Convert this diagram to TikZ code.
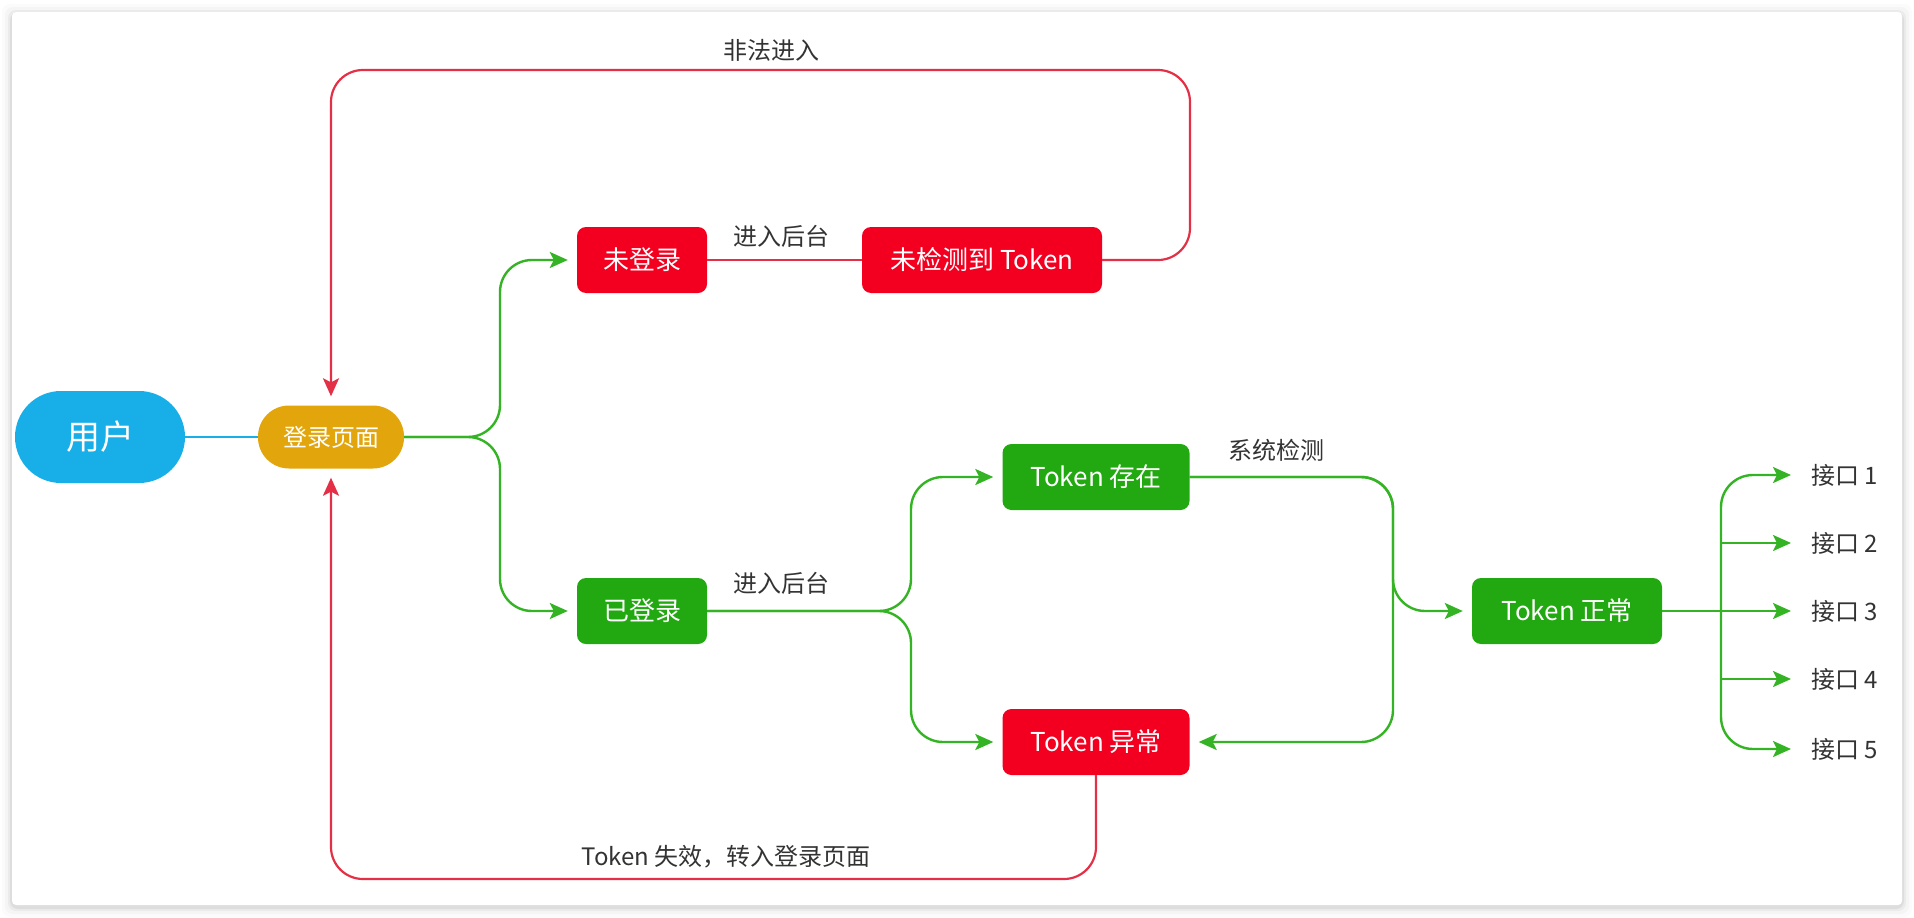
\documentclass[tikz,border=0pt]{standalone}
\usepackage{fontspec}
\setmainfont{Noto Sans CJK SC}
\usetikzlibrary{arrows.meta,calc}
\definecolor{ublue}{RGB}{24,174,232}
\definecolor{ugold}{RGB}{226,165,12}
\definecolor{ured}{RGB}{243,0,32}
\definecolor{ugreen}{RGB}{34,168,16}
\definecolor{lgreen}{RGB}{52,180,36}
\definecolor{lred}{RGB}{228,48,70}
\definecolor{txt}{RGB}{51,51,51}
\begin{document}
\begin{tikzpicture}[x=1pt,y=-1pt,
 box/.style={rectangle, rounded corners=9pt, minimum height=66pt, text=white, font=\fontsize{26}{30}\selectfont, inner sep=0pt},
 redbox/.style={box, fill=ured},
 greenbox/.style={box, fill=ugreen},
 userbox/.style={rectangle, fill=ublue, rounded corners=46pt, minimum width=170pt, minimum height=92pt, text=white, font=\fontsize{34}{40}\selectfont, inner sep=0pt},
 loginbox/.style={rectangle, fill=ugold, rounded corners=31pt, minimum width=146pt, minimum height=63pt, text=white, font=\fontsize{24}{28}\selectfont, inner sep=0pt},
 lbl/.style={text=txt, font=\fontsize{24}{28}\selectfont, inner sep=0pt},
 gline/.style={draw=lgreen, line width=2.4pt, rounded corners=32pt},
 rline/.style={draw=lred, line width=2.2pt, rounded corners=32pt},
 bline/.style={draw=ublue, line width=2.4pt},
 arr/.style={-{Stealth[length=18pt,width=16pt,inset=4pt]}, shorten >=9pt},
 arrk/.style={-{Stealth[length=18pt,width=16pt,inset=4pt]}, shorten >=20pt},
]
\useasboundingbox (0,0) rectangle (1914,918);
% card with shadow
\foreach \i/\o in {10/0.015, 7/0.025, 4/0.04, 2/0.06}
  \fill[black, opacity=\o, rounded corners=8pt] (12-\i,12-\i+2) rectangle (1902+\i,905+\i+2);
\fill[white, rounded corners=4pt] (12,12) rectangle (1902,905);

% nodes
\node[userbox] (user) at (100,437) {用户};
\node[loginbox] (login) at (331,437) {登录页面};
\node[redbox, minimum width=130pt] (nl) at (642,260) {未登录};
\node[redbox, minimum width=240pt] (nt) at (982,260) {未检测到 Token};
\node[greenbox, minimum width=130pt] (yl) at (642,611) {已登录};
\node[greenbox, minimum width=187pt] (te) at (1096,477) {Token 存在};
\node[redbox, minimum width=187pt] (tx) at (1096,742) {Token 异常};
\node[greenbox, minimum width=190pt] (tn) at (1567,611) {Token 正常};
\node[lbl, anchor=west] (k1) at (1811,475) {接口 1};
\node[lbl, anchor=west] (k2) at (1811,543) {接口 2};
\node[lbl, anchor=west] (k3) at (1811,611) {接口 3};
\node[lbl, anchor=west] (k4) at (1811,679) {接口 4};
\node[lbl, anchor=west] (k5) at (1811,749) {接口 5};

% labels
\node[lbl] (lab1) at (771,50) {非法进入};
\node[lbl] (lab2) at (781,236) {进入后台};
\node[lbl] (lab3) at (781,583) {进入后台};
\node[lbl] (lab4) at (1276,450) {系统检测};
\node[lbl] (lab5) at (726,857) {Token 失效，转入登录页面};

% helper coordinates
\coordinate (b1) at (500,437);
\coordinate (b2) at (911,611);
\coordinate (b3) at (1393,0);
\coordinate (j) at (1721,611);
\coordinate (r1) at (1190,70);
\coordinate (r2) at (0,879);

% connectors
\draw[bline] (user.east) -- (login.west);
\draw[gline, arr] (login.east) -- (b1) |- (nl.west);
\draw[gline, arr] (login.east) -- (b1) |- (yl.west);
\draw[rline] (nl.east) -- (nt.west);
\draw[rline, arr] (nt.east) -| (r1) -- (r1 -| login) -- (login.north);
\draw[rline, arr] (tx.south) |- (r2 -| login) -- (login.south);
\draw[gline, arr] (yl.east) -- (b2) |- (te.west);
\draw[gline, arr] (yl.east) -- (b2) |- (tx.west);
\draw[gline, arr] (te.east) -| (b3 |- tn) -- (tn.west);
\draw[gline, arr] (te.east) -| (b3 |- tx) -- (tx.east);
\draw[gline, arrk] (tn.east) -- (k3.west);
\draw[gline, arrk] (j) |- (k1.west);
\draw[gline, arrk] (j) |- (k5.west);
\draw[gline, arrk] (j |- k2) -- (k2.west);
\draw[gline, arrk] (j |- k4) -- (k4.west);
\end{tikzpicture}
\end{document}
